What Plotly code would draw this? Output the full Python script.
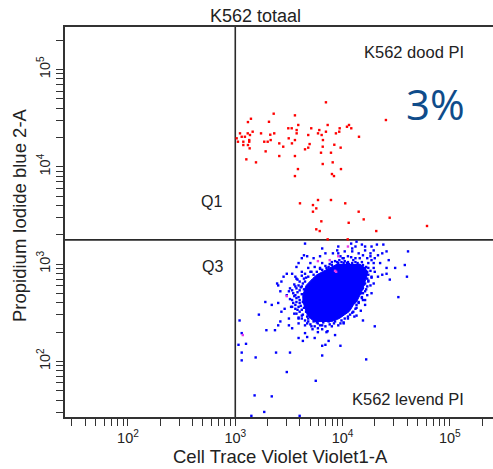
import numpy as np
import plotly.graph_objects as go

# Quadrant gate thresholds (Cell Trace Violet, Propidium Iodide)
GATE_CTV = 1000
GATE_PI = 1770

# Axis extents in decades
X_RANGE = [1.413, 5.402]
Y_RANGE = [1.428, 5.436]

MAJOR_TICKS = [1e2, 1e3, 1e4, 1e5]
MAJOR_LABELS = ["10<sup>2</sup>", "10<sup>3</sup>", "10<sup>4</sup>", "10<sup>5</sup>"]

# PI-positive (dead) events, log10 values
dead_ctv_log = [3.845, 3.146, 3.118, 3.358, 3.556, 3.314, 3.587, 3.494, 3.526, 3.708,
                3.783, 3.572, 3.973, 4.060, 4.041, 4.081, 3.861, 3.162, 3.240, 3.044,
                3.116, 3.013, 3.060, 3.090, 3.137, 3.326, 3.363, 3.572, 3.680, 3.771,
                3.805, 3.845, 3.938, 3.969, 4.153, 3.025, 3.075, 3.130, 3.130, 3.270,
                3.302, 3.330, 3.498, 3.556, 3.410, 3.528, 3.693, 3.817, 3.923, 3.118,
                3.134, 3.075, 3.447, 3.650, 3.680, 3.815, 3.982, 3.283, 3.799, 3.892,
                3.410, 3.556, 3.103, 3.193, 3.815, 3.908, 4.404, 3.584, 3.556, 3.901,
                3.920, 3.985, 3.603, 3.771, 3.892, 4.025, 3.724, 3.755, 3.724, 4.150,
                3.802, 4.057, 4.197, 4.439, 4.787, 3.755, 3.787, 4.314, 3.861, 4.048]
dead_pi_log = [4.662, 4.493, 4.459, 4.545, 4.528, 4.462, 4.429, 4.395, 4.395, 4.395,
               4.377, 4.377, 4.395, 4.429, 4.411, 4.395, 4.429, 4.360, 4.343, 4.343,
               4.343, 4.292, 4.308, 4.308, 4.326, 4.329, 4.343, 4.343, 4.326, 4.343,
               4.326, 4.360, 4.343, 4.360, 4.308, 4.257, 4.257, 4.274, 4.257, 4.257,
               4.257, 4.274, 4.292, 4.274, 4.240, 4.240, 4.233, 4.274, 4.226, 4.223,
               4.189, 4.223, 4.206, 4.179, 4.196, 4.206, 4.196, 4.158, 4.144, 4.144,
               4.110, 4.110, 4.076, 4.045, 4.028, 4.045, 4.480, 3.976, 3.904, 3.925,
               3.904, 3.976, 3.624, 3.658, 3.658, 3.624, 3.606, 3.572, 3.538, 3.538,
               3.439, 3.424, 3.459, 3.476, 3.391, 3.357, 3.339, 3.339, 3.254, 3.254]

# Dense core of the live population (outline), log10 values
core_pi_log = [3.00, 2.96, 2.92, 2.89, 2.85, 2.82, 2.78, 2.75, 2.72, 2.68, 2.65, 2.61,
               2.58, 2.54, 2.51, 2.48, 2.44, 2.41]
core_left_log = [3.95, 3.88, 3.80, 3.76, 3.72, 3.69, 3.66, 3.65, 3.64, 3.63, 3.63, 3.63,
                 3.64, 3.65, 3.66, 3.67, 3.70, 3.74]
core_right_log = [4.16, 4.21, 4.23, 4.23, 4.22, 4.21, 4.20, 4.19, 4.18, 4.16, 4.15, 4.13,
                  4.10, 4.08, 4.06, 4.02, 3.97, 3.90]

# Individual live (PI-negative) events around the core, log10 values
live_ctv_log = [3.65, 4.08, 4.13, 3.81, 3.95, 3.96, 4.09, 4.12, 4.18, 4.21, 4.27, 4.32,
                4.38, 4.21, 4.61, 4.41, 3.64, 3.67, 3.84, 3.91, 3.96, 4.02, 4.09, 4.15,
                4.19, 4.26, 4.29, 4.33, 4.37, 4.26, 3.62, 3.73, 3.79, 3.98, 4.01, 4.05,
                4.12, 4.16, 4.23, 4.27, 4.30, 4.43, 3.59, 3.70, 3.81, 3.90, 3.95, 4.01,
                4.05, 4.12, 4.18, 4.24, 4.29, 4.35, 4.58, 4.49, 3.57, 3.68, 3.74, 3.79,
                3.85, 4.24, 4.29, 4.41, 3.48, 3.53, 3.62, 3.71, 4.30, 4.37, 4.41, 3.45,
                3.56, 3.57, 4.27, 4.33, 4.44, 4.60, 3.39, 3.43, 3.40, 4.24, 4.29, 3.51,
                3.56, 4.23, 3.42, 3.50, 3.54, 4.21, 4.27, 3.48, 3.57, 4.18, 4.52, 3.28,
                3.40, 3.34, 4.21, 3.46, 3.53, 3.56, 3.43, 3.22, 3.57, 4.13, 3.50, 3.59,
                4.05, 3.42, 3.50, 3.59, 3.98, 4.19, 4.01, 3.29, 3.40, 3.53, 3.65, 3.71,
                3.77, 3.81, 3.90, 4.30, 3.37, 3.65, 3.77, 3.85, 3.93,
                3.04, 3.06, 3.10, 3.03, 3.59, 3.63, 3.67, 3.74, 3.06, 3.19, 3.38, 3.51,
                3.06, 3.48, 3.75, 3.18, 3.34, 3.27, 3.15, 3.60, 3.87, 3.84, 3.98, 3.81,
                3.81, 4.22,
                3.65, 3.68, 3.64, 3.60, 3.65, 3.59, 3.62, 3.57, 3.60, 3.56, 3.59, 3.53,
                3.57, 3.60, 3.54, 3.59, 3.62, 3.60, 3.63, 3.62, 3.65, 3.68, 3.67, 3.73,
                3.77, 3.82, 3.87, 3.93, 3.79, 3.90, 4.23, 4.24, 4.23, 4.21, 4.19, 4.19,
                4.18, 4.15, 4.13, 4.12, 4.10, 4.07, 4.02, 3.99, 3.87, 3.90, 3.96, 3.99,
                4.04, 4.09, 4.15, 4.18, 4.21, 3.81, 3.76, 3.73, 3.70,
                3.62, 3.66, 3.58, 3.63, 3.55, 3.61, 3.64, 3.53, 3.58, 3.62, 3.55, 3.64,
                3.51, 3.60, 3.63, 3.56, 3.61, 3.52, 3.64, 3.58, 3.66, 3.55, 3.62, 3.67,
                3.59, 3.70, 3.74, 3.79, 3.84, 3.88, 3.72, 3.81, 3.86, 3.76, 3.92, 3.96,
                3.68, 4.26, 4.22, 4.27, 4.24, 4.20, 4.26, 4.22, 4.17, 4.23, 4.19, 4.15,
                4.21, 4.13, 4.17, 4.09, 4.11, 4.05, 4.01, 3.84, 3.88, 3.93, 3.97, 4.02,
                4.06, 4.10, 4.14, 4.19, 4.22, 3.79, 3.86, 4.00, 4.08]
live_pi_log = [3.21, 3.21, 3.23, 3.16, 3.14, 3.18, 3.16, 3.18, 3.20, 3.18, 3.18, 3.20,
               3.20, 3.14, 3.13, 3.13, 3.09, 3.08, 3.11, 3.11, 3.11, 3.13, 3.13, 3.11,
               3.09, 3.11, 3.14, 3.09, 3.11, 3.08, 3.06, 3.06, 3.08, 3.08, 3.06, 3.08,
               3.06, 3.06, 3.06, 3.04, 3.06, 3.04, 3.01, 3.01, 3.01, 3.02, 3.02, 3.01,
               3.02, 3.02, 3.02, 3.01, 3.01, 3.01, 2.99, 2.96, 2.97, 2.96, 2.97, 2.96,
               2.96, 2.96, 2.96, 2.96, 2.90, 2.90, 2.92, 2.92, 2.92, 2.89, 2.90, 2.87,
               2.87, 2.85, 2.87, 2.87, 2.84, 2.87, 2.80, 2.82, 2.78, 2.82, 2.80, 2.75,
               2.77, 2.77, 2.72, 2.72, 2.70, 2.72, 2.70, 2.68, 2.65, 2.66, 2.66, 2.61,
               2.60, 2.58, 2.63, 2.54, 2.56, 2.54, 2.51, 2.48, 2.49, 2.47, 2.44, 2.44,
               2.46, 2.41, 2.37, 2.39, 2.39, 2.42, 2.39, 2.32, 2.37, 2.34, 2.37, 2.36,
               2.34, 2.37, 2.36, 2.36, 2.32, 2.29, 2.30, 2.30, 2.27,
               2.42, 2.29, 2.18, 2.17, 2.24, 2.21, 2.25, 2.24, 2.09, 2.04, 2.09, 2.09,
               2.01, 1.89, 1.80, 1.65, 1.64, 1.48, 1.44, 1.44, 2.21, 2.17, 2.16, 2.16,
               2.06, 2.02,
               2.90, 2.87, 2.85, 2.82, 2.82, 2.78, 2.77, 2.75, 2.73, 2.68, 2.66, 2.63,
               2.61, 2.60, 2.60, 2.56, 2.53, 2.51, 2.48, 2.44, 2.42, 2.44, 2.39, 2.41,
               2.39, 2.40, 2.41, 2.41, 2.44, 2.44, 2.92, 2.89, 2.85, 2.80, 2.75, 2.70,
               2.65, 2.61, 2.58, 2.54, 2.51, 2.48, 2.44, 2.42, 2.97, 2.99, 3.01, 3.02,
               3.01, 3.01, 2.99, 2.97, 2.96, 2.94, 2.92, 2.89, 2.92,
               2.88, 2.86, 2.84, 2.80, 2.79, 2.76, 2.74, 2.73, 2.71, 2.69, 2.67, 2.66,
               2.64, 2.63, 2.61, 2.58, 2.57, 2.56, 2.55, 2.53, 2.51, 2.49, 2.47, 2.46,
               2.45, 2.38, 2.36, 2.37, 2.36, 2.38, 2.33, 2.33, 2.31, 2.40, 2.39, 2.37,
               2.41, 2.93, 2.90, 2.86, 2.83, 2.79, 2.78, 2.74, 2.70, 2.68, 2.63, 2.60,
               2.58, 2.55, 2.52, 2.50, 2.46, 2.44, 2.40, 2.98, 3.00, 3.03, 3.04, 3.03,
               3.00, 3.04, 3.01, 2.99, 2.97, 2.95, 2.94, 3.06, 3.07]

# Events from a further overlapping gate (magenta), log10 values
other_ctv_log = [4.05, 3.77, 3.88, 3.93, 3.48, 3.07, 3.96, 3.94]
other_pi_log = [3.18, 3.03, 3.04, 2.93, 2.67, 2.27, 3.08, 2.92]


def lin(v):
    return 10 ** np.asarray(v, dtype=float)


TEXT = "#222222"
FONT = "Liberation Sans, Arial, sans-serif"

fig = go.Figure()

# quadrant gate lines
fig.add_trace(go.Scatter(x=[GATE_CTV, GATE_CTV], y=[10 ** Y_RANGE[0], 10 ** Y_RANGE[1]],
                         mode="lines", line=dict(color="#2a2a2a", width=1.6),
                         hoverinfo="skip", showlegend=False))
fig.add_trace(go.Scatter(x=[10 ** X_RANGE[0], 10 ** X_RANGE[1]], y=[GATE_PI, GATE_PI],
                         mode="lines", line=dict(color="#2a2a2a", width=1.6),
                         hoverinfo="skip", showlegend=False))

# live population: solid core outline (left edge downwards, right edge upwards)
core_x = list(core_left_log) + list(core_right_log[::-1])
core_y = list(core_pi_log) + list(core_pi_log[::-1])
fig.add_trace(go.Scatter(x=lin(core_x), y=lin(core_y), mode="lines",
                         fill="toself", fillcolor="rgb(0,0,255)",
                         line=dict(color="rgb(0,0,255)", width=1),
                         hoverinfo="skip", showlegend=False))
fig.add_trace(go.Scatter(x=lin(live_ctv_log), y=lin(live_pi_log), mode="markers",
                         marker=dict(symbol="square", size=2.4, color="rgb(0,0,255)",
                                     line=dict(width=0)),
                         showlegend=False))
fig.add_trace(go.Scatter(x=lin(other_ctv_log), y=lin(other_pi_log), mode="markers",
                         marker=dict(symbol="square", size=2.4, color="rgb(230,60,230)",
                                     line=dict(width=0)),
                         showlegend=False))
# dead population
fig.add_trace(go.Scatter(x=lin(dead_ctv_log), y=lin(dead_pi_log), mode="markers",
                         marker=dict(symbol="square", size=2.4, color="rgb(255,0,0)",
                                     line=dict(width=0)),
                         showlegend=False))


def tick_positions(lo, hi):
    vals, text = [], []
    for d in range(1, 6):
        for m in range(1, 10):
            v = m * 10 ** d
            if 10 ** lo <= v <= 10 ** hi:
                vals.append(v)
                text.append(MAJOR_LABELS[MAJOR_TICKS.index(v)] if v in MAJOR_TICKS else "")
    return vals, text


xt, xl = tick_positions(*X_RANGE)
yt, yl = tick_positions(*Y_RANGE)

axis_common = dict(type="log", showgrid=False, zeroline=False, showline=True,
                   linecolor="#333333", linewidth=1.6, ticks="outside", ticklen=7,
                   tickwidth=1, tickcolor="#333333",
                   tickfont=dict(family=FONT, size=14.5, color=TEXT))

fig.update_xaxes(range=X_RANGE, tickvals=xt, ticktext=xl, mirror=True, **axis_common)
fig.update_yaxes(range=Y_RANGE, tickvals=yt, ticktext=yl, tickangle=-90, **axis_common)


def px_to_paper(px, py):
    return (px - 65) / 428, (417 - py) / 390


notes = [
    ("K562 totaal", 255, 16, 18, TEXT, FONT, 0),
    ("Cell Trace Violet Violet1-A", 280, 456, 18.5, TEXT, FONT, 0),
    ("Propidium Iodide blue 2-A", 20, 215, 18.5, TEXT, FONT, -90),
    ("K562 dood PI", 413.5, 52, 16.5, TEXT, FONT, 0),
    ("K562 levend PI", 407.5, 399, 16.5, TEXT, FONT, 0),
    ("Q1", 211.5, 201, 16, TEXT, FONT, 0),
    ("Q3", 212, 266.5, 16, TEXT, FONT, 0),
    ("3%", 435, 104, 42, "#0f4c8a", "Open Sans, Lato, sans-serif", 0),
]
for text, px, py, size, color, fam, ang in notes:
    ax, ay = px_to_paper(px, py)
    fig.add_annotation(text=text, x=ax, y=ay, xref="paper", yref="paper",
                       xanchor="center", yanchor="middle", showarrow=False,
                       textangle=ang, font=dict(family=fam, size=size, color=color))

fig.update_layout(width=493, height=469, margin=dict(l=65, r=0, t=27, b=52),
                  paper_bgcolor="white", plot_bgcolor="white", showlegend=False)

fig.write_html("out.html")
